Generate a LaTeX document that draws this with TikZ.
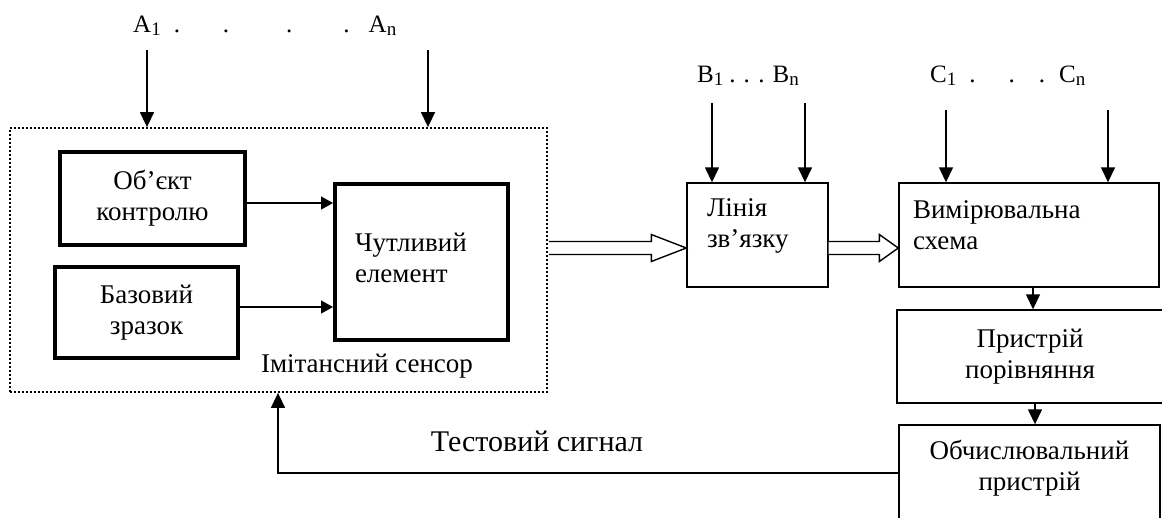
\documentclass[tikz,border=0pt]{standalone}
\usepackage{fontspec}
\setmainfont{Liberation Serif}
\usetikzlibrary{arrows.meta,calc}
\newcommand\lsub[1]{\raisebox{-3.5pt}{\fontsize{19}{20}\selectfont #1}}
\begin{document}
\begin{tikzpicture}[x=1pt,y=-1pt,
  txt/.style={font=\fontsize{27}{31}\selectfont},
  thickbox/.style={draw, line width=4pt, inner sep=0pt, txt},
  thinbox/.style={draw, line width=1.4pt, inner sep=0pt, txt},
  arr/.style={line width=1.4pt, -{Triangle[length=15pt,width=14pt]}},
  sarr/.style={line width=1.4pt, -{Triangle[length=12pt,width=13pt]}},
  hollow/.style={draw, line width=1.4pt, fill=white, line join=miter},
  lbl/.style={font=\fontsize{25}{29}\selectfont, inner sep=0pt, anchor=base west}]
\useasboundingbox (0,0) rectangle (1162,517);
\clip (0,0) rectangle (1162,517);

% dotted sensor frame
\node[draw, line width=1.8pt, dash pattern=on 1.8pt off 2.2pt,
      minimum width=537pt, minimum height=264pt, inner sep=0pt] (sens) at (278.5,260) {};

% boxes
\node[thickbox, minimum width=185pt, minimum height=93pt, align=center] (obj) at (152.5,198.5) {Об’єкт\\контролю};
\node[thickbox, minimum width=183pt, minimum height=91pt, align=center] (base) at (146.5,312.5) {Базовий\\зразок};
\node[thickbox, minimum height=156pt, text width=133pt, inner xsep=20pt, align=left, text depth=40pt] (chut) at (421.5,262) {Чутливий\\елемент};
\node[txt, anchor=base, inner sep=0pt] (senslbl) at (367,372) {Імітансний сенсор};

\node[thinbox, minimum height=104pt, text width=101pt, inner xsep=20pt, align=left, text depth=54pt] (lin) at (757.5,235) {Лінія\\зв’язку};
\node[thinbox, minimum height=104pt, text width=232pt, inner xsep=14pt, align=left, text depth=50pt] (vym) at (1029,235) {Вимірювальна\\схема};
\node[thinbox, minimum width=266pt, minimum height=93pt, align=center] (pry) at (1030,356.5) {Пристрій\\порівняння};
\node[thinbox, minimum width=261pt, minimum height=96pt, align=center, text depth=16pt] (obch) at (1029.5,473) {Обчислювальний\\пристрій};

% input labels
\node[lbl] (la) at (133,32) {A\lsub{1}\hspace{13pt}.\hspace{43pt}.\hspace{57pt}.\hspace{51pt}.\hspace{19pt}A\lsub{n}};
\node[lbl] (lb) at (697,82) {B\lsub{1}\hspace{6pt}.\hspace{8pt}.\hspace{8.5pt}.\hspace{8pt}B\lsub{n}};
\node[lbl] (lc) at (930,82) {C\lsub{1}\hspace{13pt}.\hspace{33pt}.\hspace{24pt}.\hspace{14pt}C\lsub{n}};

\node[font=\fontsize{30}{36}\selectfont, anchor=base, inner sep=0pt] (ts) at (537,451) {Тестовий сигнал};

% input arrows
\coordinate (a1) at (147,50);
\coordinate (an) at (428,50);
\coordinate (b1) at (712,103);
\coordinate (bn) at (805,103);
\coordinate (c1) at (946,110);
\coordinate (cn) at (1108,110);
\draw[arr] (a1) -- (a1 |- sens.north);
\draw[arr] (an) -- (an |- sens.north);
\draw[arr] (b1) -- (b1 |- lin.north);
\draw[arr] (bn) -- (bn |- lin.north);
\draw[arr] (c1) -- (c1 |- vym.north);
\draw[arr] (cn) -- (cn |- vym.north);

% inner arrows
\draw[sarr] ([yshift=-4.5pt]obj.east) -- ([yshift=-4.5pt]obj.east -| chut.west);
\draw[sarr] ([yshift=5.5pt]base.east) -- ([yshift=5.5pt]base.east -| chut.west);

% hollow arrows
\coordinate (hy) at (0,248);
\coordinate (h1s) at ([xshift=1pt]sens.east |- hy);
\coordinate (h1e) at (lin.west |- hy);
\draw[hollow] ($(h1s)+(0,-6.5)$) -- ($(h1e)+(-35,-6.5)$) -- ($(h1e)+(-35,-13.5)$) -- (h1e)
  -- ($(h1e)+(-35,13.5)$) -- ($(h1e)+(-35,6.5)$) -- ($(h1s)+(0,6.5)$);
\coordinate (h2s) at (lin.east |- hy);
\coordinate (h2e) at (vym.west |- hy);
\draw[hollow] ($(h2s)+(0,-6.5)$) -- ($(h2e)+(-19,-6.5)$) -- ($(h2e)+(-19,-13.5)$) -- (h2e)
  -- ($(h2e)+(-19,13.5)$) -- ($(h2e)+(-19,6.5)$) -- ($(h2s)+(0,6.5)$);

% chain on the right
\draw[arr] ([xshift=4pt]vym.south) -- ([xshift=4pt]vym.south |- pry.north);
\draw[arr] ([xshift=5pt]pry.south) -- ([xshift=5pt]pry.south |- obch.north);

% feedback
\coordinate (fb) at (278,0);
\draw[arr] (obch.west) -| (fb |- sens.south);
\end{tikzpicture}
\end{document}
